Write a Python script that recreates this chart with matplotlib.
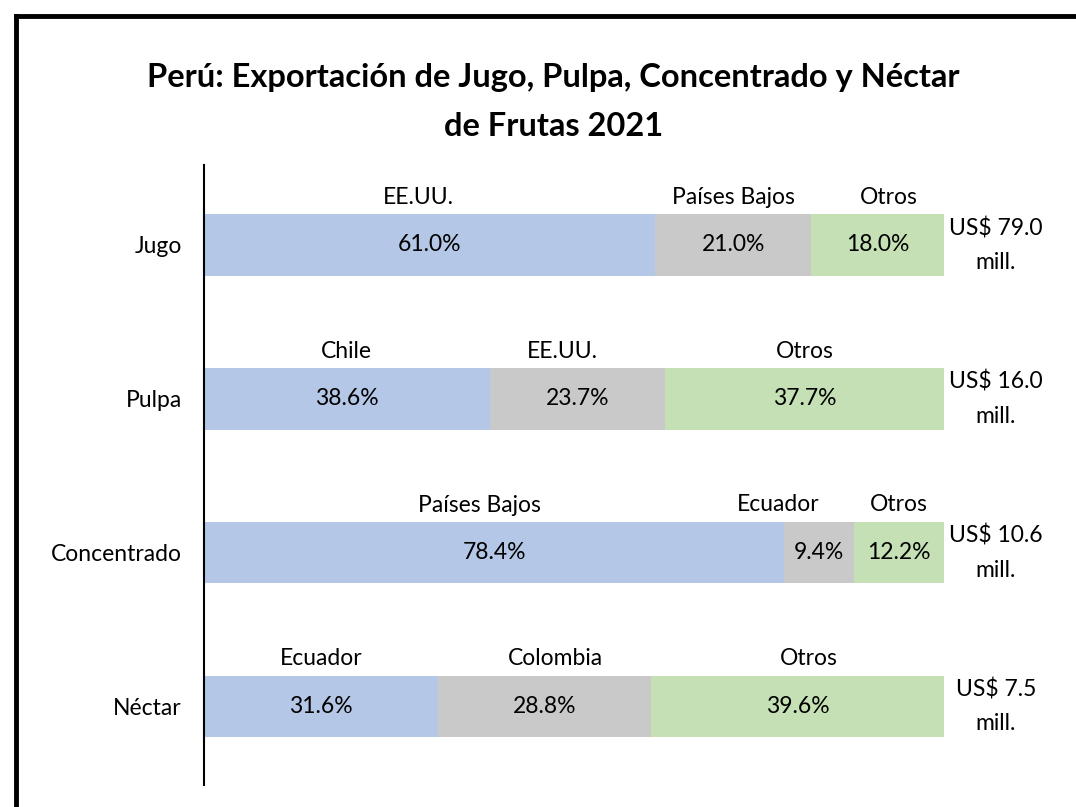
import matplotlib.pyplot as plt
from matplotlib.lines import Line2D

categories = ["Jugo", "Pulpa", "Concentrado", "Néctar"]
first_share = [61.0, 38.6, 78.4, 31.6]
second_share = [21.0, 23.7, 9.4, 28.8]
other_share = [18.0, 37.7, 12.2, 39.6]
first_country = ["EE.UU.", "Chile", "Países Bajos", "Ecuador"]
second_country = ["Países Bajos", "EE.UU.", "Ecuador", "Colombia"]
other_country = ["Otros", "Otros", "Otros", "Otros"]
totals = [79.0, 16.0, 10.6, 7.5]

COLORS = ["#B4C7E7", "#C9C9C9", "#C5E0B4"]
FONT = "Lato"
FS = 16.5

plt.rcParams["font.family"] = [FONT, "DejaVu Sans"]

fig = plt.figure(figsize=(10.76, 8.07), dpi=100)
ax = fig.add_axes([204 / 1076, 1 - 785 / 807, 740 / 1076, 620 / 807])

ypos = list(range(len(categories)))
shares = [first_share, second_share, other_share]
names = [first_country, second_country, other_country]
# small manual nudges of the country names (in % units) so they don't collide
name_nudge = {(2, 0): -2.0, (2, 1): -5.5, (0, 0): -1.5, (1, 1): -2.0,
              (0, 2): 1.5, (3, 2): 1.5, (3, 1): 1.5}

left = [0.0] * len(categories)
for k, (vals, labels) in enumerate(zip(shares, names)):
    ax.barh(ypos, vals, left=left, height=0.4, color=COLORS[k], edgecolor="none")
    for i, v in enumerate(vals):
        cx = left[i] + v / 2
        ax.text(cx, i, f"{v:.1f}%", ha="center", va="center", fontsize=FS)
        ax.text(cx + name_nudge.get((i, k), 0), i - 0.2 - 0.11, labels[i],
                ha="center", va="center", fontsize=FS)
    left = [a + b for a, b in zip(left, vals)]

for i, t in enumerate(totals):
    ax.text(107.0, i, f"US$ {t:.1f}\nmill.", ha="center", va="center",
            fontsize=FS, linespacing=1.75)

ax.set_xlim(0, 100)
ax.set_ylim(3.51, -0.52)
ax.set_yticks(ypos)
ax.set_yticklabels(categories, fontsize=FS)
ax.tick_params(axis="y", length=0, pad=16)
ax.set_xticks([])
for s in ["top", "right", "bottom"]:
    ax.spines[s].set_visible(False)
ax.spines["left"].set_linewidth(1.5)

fig.text(0.514, 1 - 102 / 807,
         "Perú: Exportación de Jugo, Pulpa, Concentrado y Néctar\nde Frutas 2021",
         ha="center", va="center", fontsize=23.5, fontweight="bold", linespacing=1.85)

# chart frame (only top and left edges visible in the crop)
fig.add_artist(Line2D([16 / 1076, 16 / 1076], [0, 1 - 16 / 807], color="black", lw=3.5))
fig.add_artist(Line2D([16 / 1076, 1], [1 - 16 / 807, 1 - 16 / 807], color="black", lw=3.5))

fig.savefig("out.png", dpi=100)
